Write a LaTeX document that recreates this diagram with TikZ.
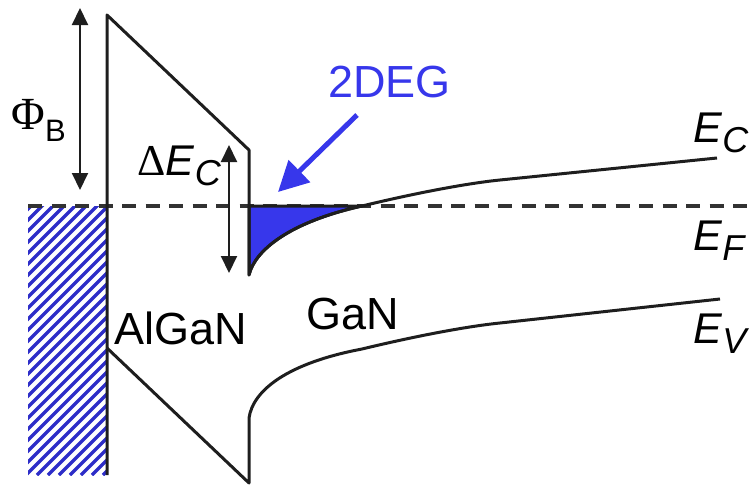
\documentclass[tikz,border=0pt]{standalone}
\usepackage{fontspec}
\setmainfont{Liberation Sans}
\newfontfamily\greekfont{Liberation Serif}
\usetikzlibrary{arrows.meta,positioning}

\definecolor{degblue}{RGB}{55,55,235}
\definecolor{hatchblue}{RGB}{45,45,200}
\definecolor{fermigray}{RGB}{50,50,50}
\definecolor{bandblack}{RGB}{30,30,30}

% energy level with italic subscript
\newcommand{\lvl}[2]{\textit{#1}\raisebox{-5.25pt}{\fontsize{18}{18}\selectfont\textit{#2}}}

\begin{document}
\begin{tikzpicture}[x=0.5pt, y=-0.5pt,
  band/.style={bandblack, line width=1.5pt, line join=round},
  dimarrow/.style={bandblack, line width=1pt, {Triangle[width=8pt,length=8.5pt]}-{Triangle[width=8pt,length=8.5pt]}},
  lbl/.style={inner sep=0pt, anchor=base west, font=\fontsize{22.5}{24}\selectfont},
  lvllbl/.style={inner sep=0pt, anchor=base west, font=\fontsize{21.5}{24}\selectfont}]
  \useasboundingbox (0,0) rectangle (749,487);

  % band corners
  \coordinate (cbTop) at (107,15);
  \coordinate (cbKink) at (249,150);
  \coordinate (cbWell) at (249,275);
  \coordinate (cbCross) at (362,206);
  \coordinate (cbMid) at (500,180);
  \coordinate (cbEnd) at (717,158);
  \coordinate (vbTop) at (107,348);
  \coordinate (vbLow) at (249,483);
  \coordinate (vbKnee) at (249,418);
  \coordinate (vbCross) at (362,349);
  \coordinate (vbMid) at (500,323);
  \coordinate (vbEnd) at (720,299);
  \coordinate (metalTop) at (28,206);
  \coordinate (metalBot) at (107,475);
  \coordinate (efEnd) at (749,206);
  \coordinate (efWell) at (249,206);

  % metal
  \begin{scope}
    \clip (metalTop) rectangle (metalBot);
    \foreach \i in {-260,-249,...,110}
      \draw[hatchblue, line width=1.7pt] (\i,475) -- ++(300,-300);
  \end{scope}

  % Fermi level
  \draw[fermigray, line width=2.2pt, dash pattern=on 7pt off 4.75pt] (metalTop) -- (efEnd);

  % 2DEG
  \filldraw[fill=degblue, draw=bandblack, line width=1.5pt, line join=round]
    (efWell) -- (cbWell) .. controls (255,250) and (290,222) .. (cbCross) -- cycle;

  % bands
  \draw[band] (metalBot) -- (cbTop) -- (cbKink) -- (cbWell)
    .. controls (255,250) and (290,222) .. (cbCross)
    .. controls (420,192) and (470,183) .. (cbMid) -- (cbEnd);
  \draw[band] (vbTop) -- (vbLow) -- (vbKnee)
    .. controls (253,390) and (288,363) .. (vbCross)
    .. controls (420,335) and (470,326) .. (vbMid) -- (vbEnd);

  % barrier and offset
  \coordinate (phiTop) at (80,8);
  \coordinate (phiBot) at (80,190);
  \coordinate (dEcTop) at (229,145);
  \coordinate (dEcBot) at (229,273);
  \draw[dimarrow] (phiTop) -- (phiBot);
  \draw[dimarrow] (dEcTop) -- (dEcBot);
  \node[inner sep=0pt, anchor=base west, font=\fontsize{23}{24}\selectfont] (phiLbl) at (11,129)
    {{\greekfont Φ}\raisebox{-6pt}{\fontsize{15.5}{16}\selectfont B}};
  \node[lvllbl] (dEcLbl) at (137,175) {{\fontsize{22}{24}\selectfont\greekfont Δ}\lvl{E}{C}};

  % 2DEG pointer
  \node[lbl, text=degblue] (deg) at (328,97) {2DEG};
  \coordinate (degTail) at (357,115);
  \coordinate (degTip) at (278,192);
  \draw[degblue, line width=2.5pt, -{Triangle[width=15pt,length=15pt]}] (degTail) -- (degTip);

  % layers and levels
  \node[lbl] (algan) at (114,344) {AlGaN};
  \node[lbl] (gan) at (306,329) {GaN};
  \node[lvllbl] (ec) at (693,142) {\lvl{E}{C}};
  \node[lvllbl] (ef) at (693,250) {\lvl{E}{F}};
  \node[lvllbl] (ev) at (693,343) {\lvl{E}{V}};
\end{tikzpicture}
\end{document}
